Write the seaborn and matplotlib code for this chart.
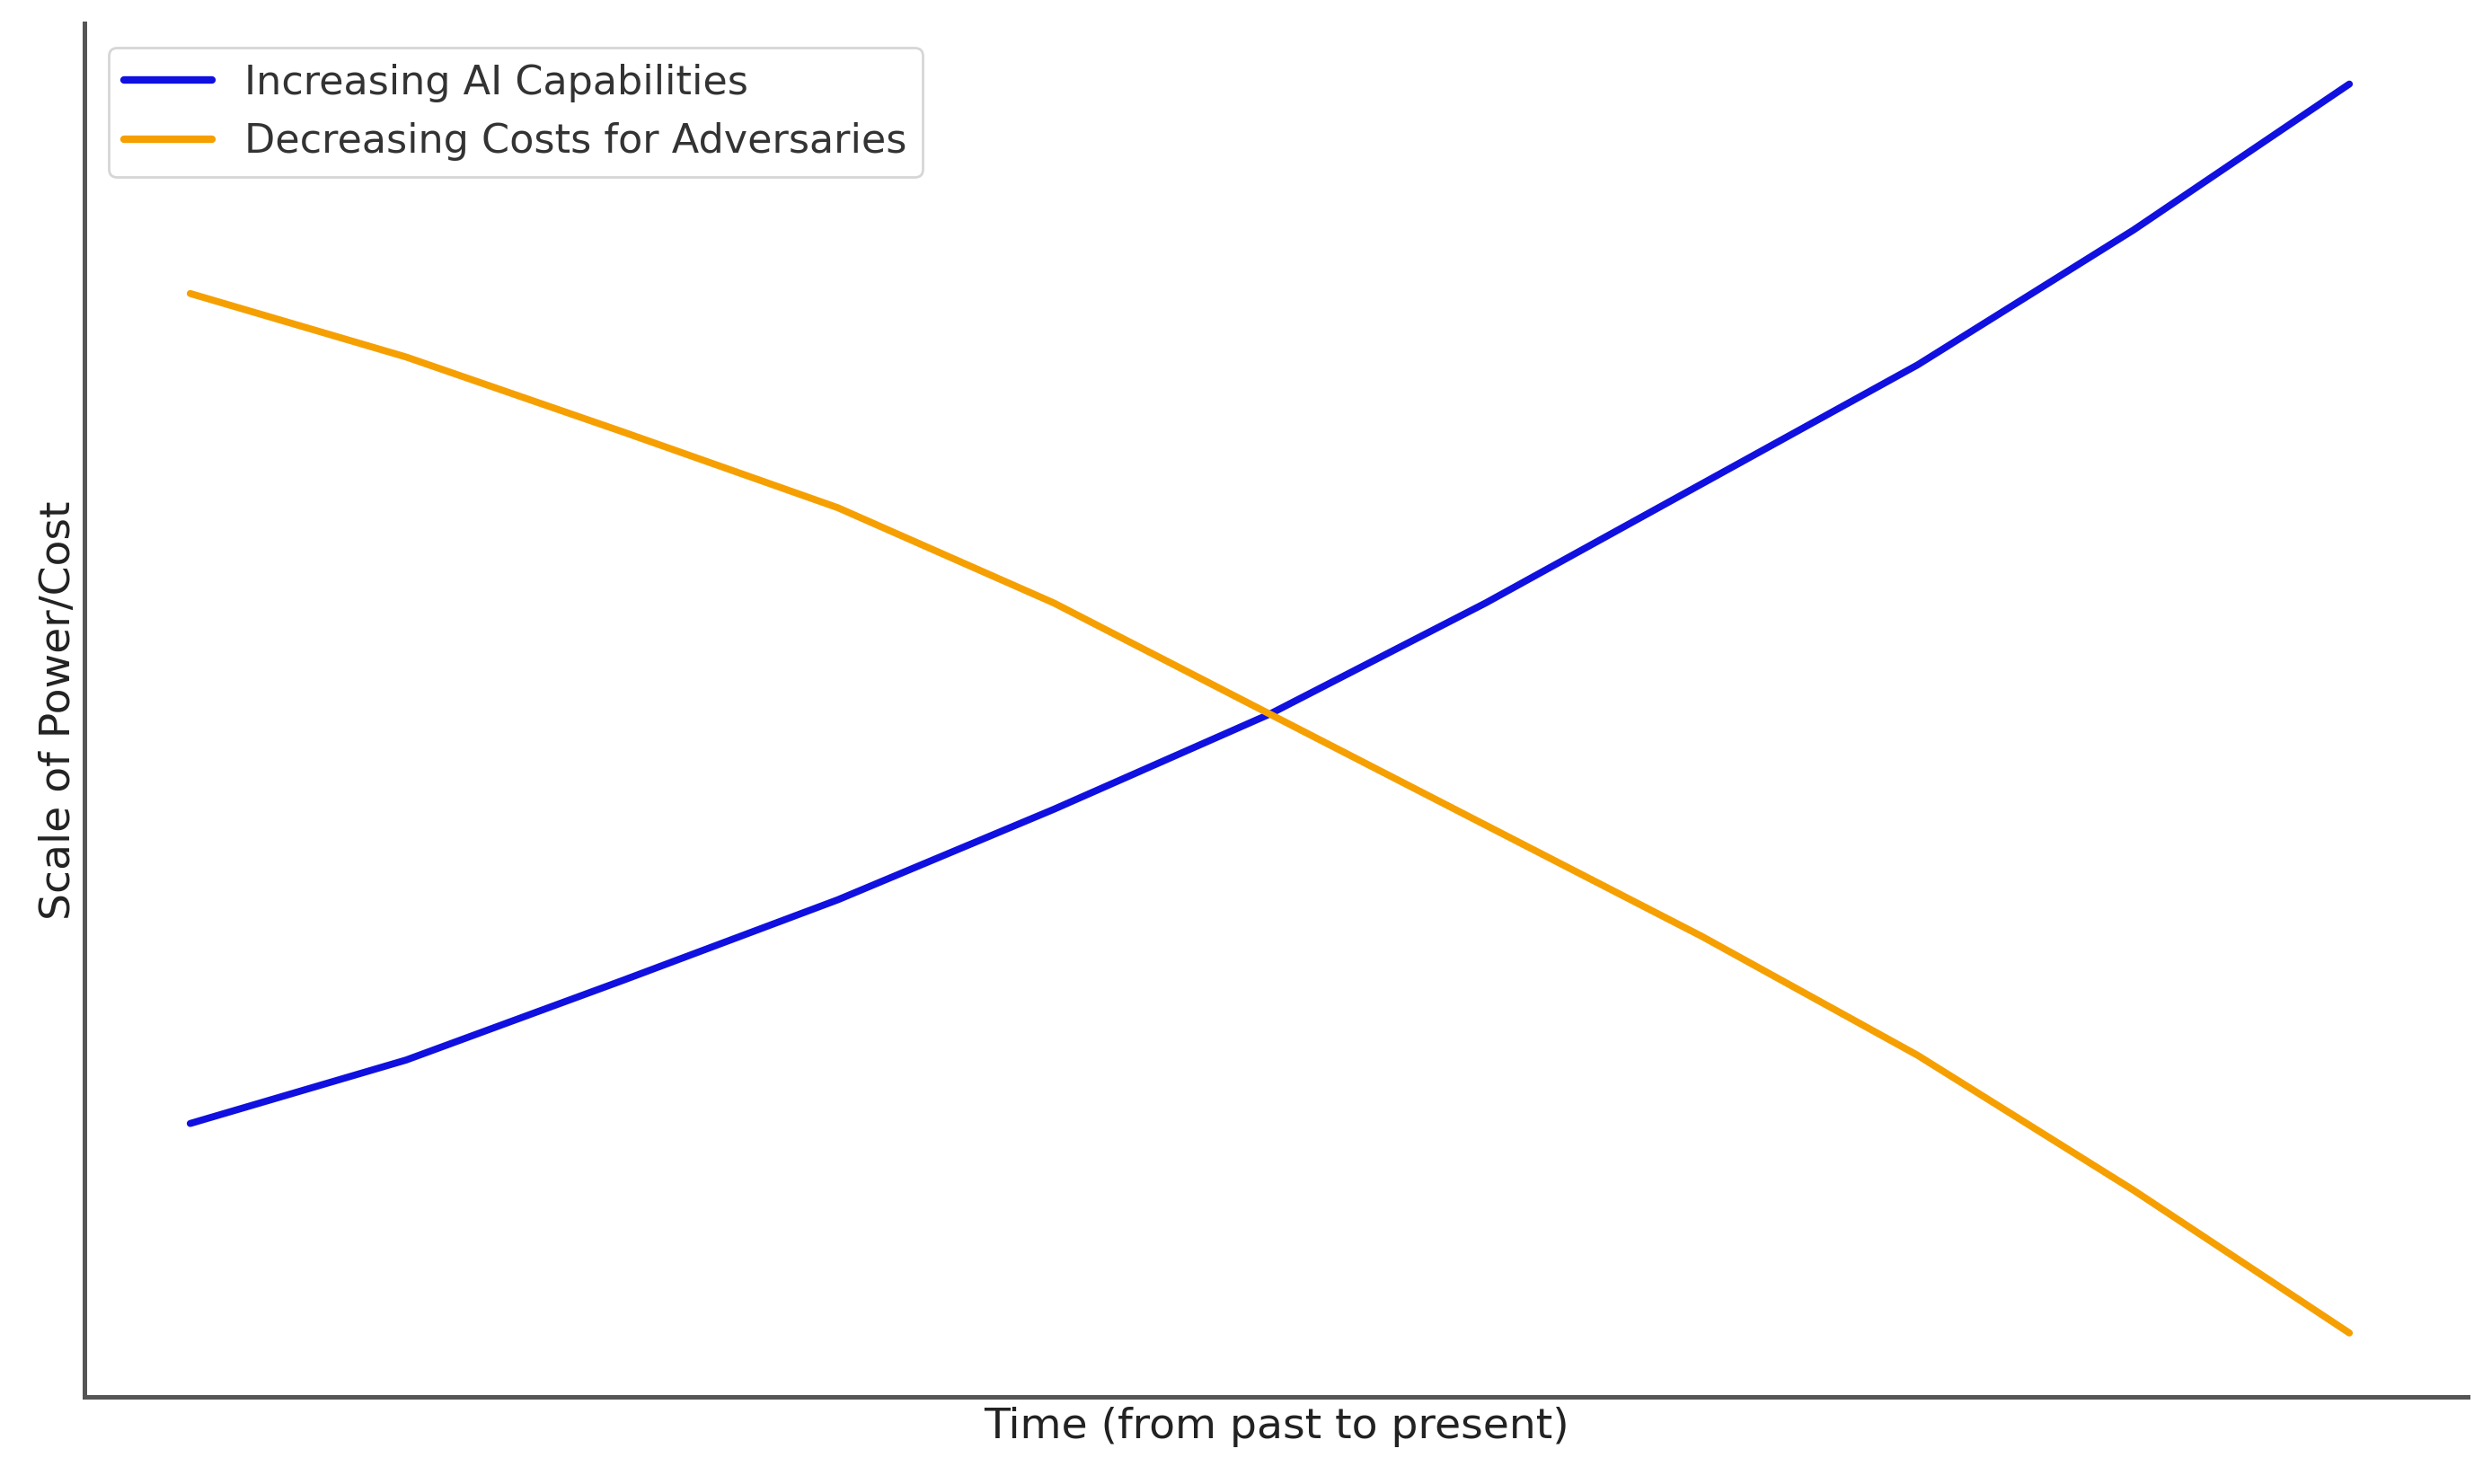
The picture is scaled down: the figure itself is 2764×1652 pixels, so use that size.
import matplotlib
matplotlib.use("Agg")
import matplotlib.pyplot as plt
import seaborn as sns
import pandas as pd

time = [0, 1, 2, 3, 4, 5, 6, 7, 8, 9, 10]
ai_capabilities = [172, 212, 262, 313, 370, 430, 500, 575, 650, 735, 827]
adversary_costs = [695, 655, 608, 560, 500, 430, 360, 290, 215, 130, 40]

df = pd.DataFrame({
    "time": time * 2,
    "value": ai_capabilities + adversary_costs,
    "series": ["Increasing AI Capabilities"] * len(time)
    + ["Decreasing Costs for Adversaries"] * len(time),
})

sns.set_style("white")
fig = plt.figure(figsize=(13.82, 8.26), dpi=200)
ax = fig.add_axes([0.034, 0.059, 0.96, 0.925])
sns.lineplot(
    data=df, x="time", y="value", hue="series",
    palette=["#1010e0", "#f5a000"], linewidth=2.8, ax=ax,
)
ax.set_xlim(-0.49, 10.55)
ax.set_ylim(0, 865)
ax.set_xticks([])
ax.set_yticks([])
sns.despine(ax=ax)
for s in ["left", "bottom"]:
    ax.spines[s].set_color("#555555")
    ax.spines[s].set_linewidth(1.8)
ax.set_xlabel("Time (from past to present)", fontsize=17, color="#222222")
ax.set_ylabel("Scale of Power/Cost", fontsize=17, color="#222222", labelpad=2)
leg = ax.legend(loc="upper left", fontsize=16, frameon=True, borderaxespad=0.6,
                handlelength=2.2)
leg.set_title(None)
for line in leg.get_lines():
    line.set_linewidth(3)
for t in leg.get_texts():
    t.set_color("#333333")
fig.savefig("out.png", dpi=200)
